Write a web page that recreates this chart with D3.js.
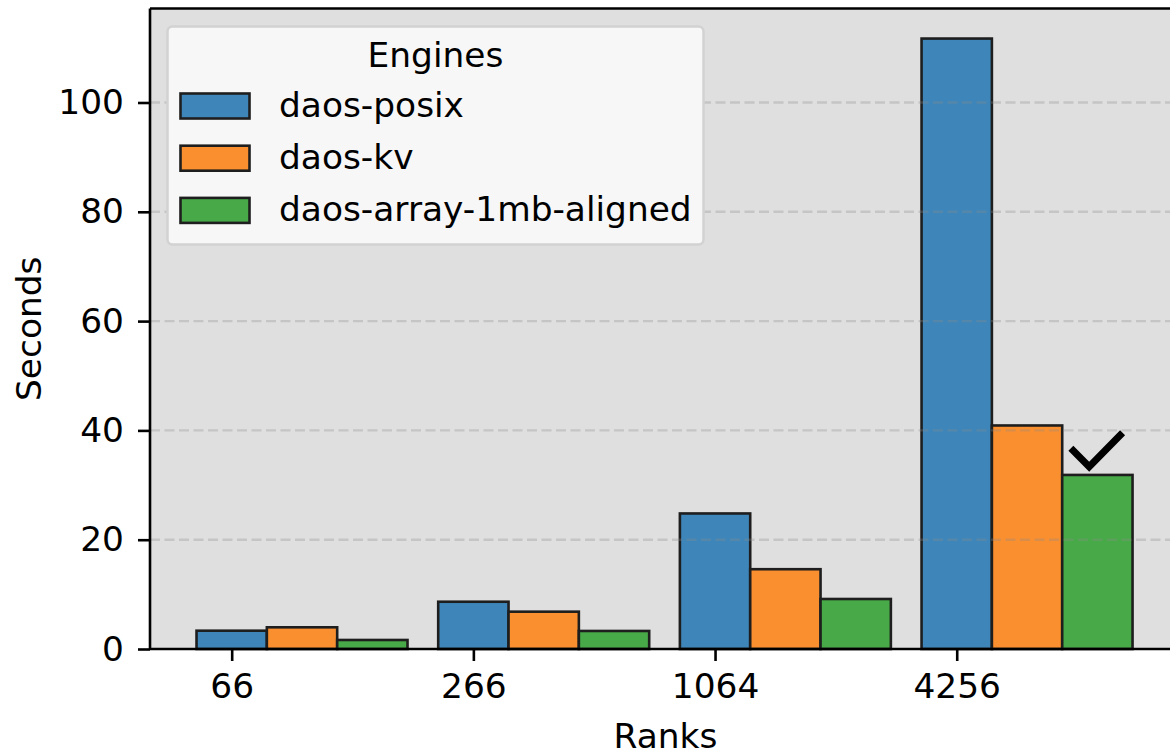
<!DOCTYPE html>
<html>
<head>
<meta charset="utf-8">
<script src="https://cdnjs.cloudflare.com/ajax/libs/d3/7.8.5/d3.min.js"></script>
<style>
	body{margin:0;background:#fff;}
	svg text{font-family:"DejaVu Sans",sans-serif;fill:#000;}
</style>
</head>
<body>
<svg id="canvas" width="1170" height="755"></svg>
<script>
// data
var ranks = ["66", "266", "1064", "4256"];
var engines = ["daos-posix", "daos-kv", "daos-array-1mb-aligned"];
var posixSec = [3.35, 8.65, 24.8, 111.7];
var kvSec = [3.97, 6.83, 14.6, 40.9];
var arraySec = [1.65, 3.3, 9.15, 31.85];
var yTicks = [0, 20, 40, 60, 80, 100];
var bestRank = "4256"; // checkmark goes on the array bar here

var ChartWidget={};
ChartWidget = {
	settings:{
		colors: ["#3e86b9", "#f98f2f", "#48a948"],
		bg: "#dfdfdf",
		edge: "#1e1e1e",
		barWidth: 0.291,
		fontSize: 34.4
	},
	init: function(s_canvas){
		var svg = d3.select(s_canvas);
		svg.selectAll("*").remove();

		this.x = d3.scaleLinear().domain([-0.338, 3.928]).range([150, 1181]);
		this.y = d3.scaleLinear().domain([0, 117.2]).range([649, 8.5]);

		this.generateFrame(svg);
		this.generateBars(svg);
		this.generateGrid(svg);
		this.generateCheck(svg);
		this.generateAxis(svg);
		this.generateLegend(svg);
	},
	generateFrame: function(svg){
		var x = this.x, y = this.y;
		svg.append("rect")
		.attr("x", x.range()[0])
		.attr("y", y.range()[1])
		.attr("width", x.range()[1]-x.range()[0])
		.attr("height", y.range()[0]-y.range()[1])
		.attr("fill", this.settings.bg);
	},
	generateBars: function(svg){
		var x = this.x, y = this.y, s = this.settings;
		var series = [posixSec, kvSec, arraySec];
		var unit = x(1)-x(0);

		var groups = svg.selectAll("g.series")
		.data(series)
		.enter()
		.append("g")
		.attr("class", "series")
		.attr("fill", function(d,i) { return s.colors[i]; });

		groups.each(function(vals, si){
			d3.select(this).selectAll("rect")
			.data(vals)
			.enter().append("rect")
			.attr("x", function(d,i) { return x(i + si*s.barWidth - s.barWidth/2); })
			.attr("y", function(d) { return y(d); })
			.attr("width", s.barWidth*unit)
			.attr("height", function(d) { return y(0)-y(d); })
			.attr("stroke", s.edge)
			.attr("stroke-width", 2.6);
		});
	},
	generateGrid: function(svg){
		var x = this.x, y = this.y;
		svg.selectAll(".grid").data(yTicks.slice(1))
		.enter()
		.append("line")
		.attr("class", "grid")
		.attr("x1", x.range()[0])
		.attr("x2", x.range()[1])
		.attr("y1", function(d) { return y(d); })
		.attr("y2", function(d) { return y(d); })
		.attr("stroke", "#8c8c8c")
		.attr("stroke-opacity", 0.3)
		.attr("stroke-width", 2.4)
		.attr("stroke-dasharray", "10,4.5");
	},
	generateCheck: function(svg){
		var s = this.settings;
		var i = ranks.indexOf(bestRank);
		var cx = this.x(i + 2*s.barWidth);
		var top = this.y(arraySec[i]);
		var pts = [[-26.5,-26.6],[-8.2,-8.2],[25.2,-42.2]];
		svg.append("path")
		.attr("d", d3.line()(pts.map(function(p){ return [cx+p[0], top+p[1]]; })))
		.attr("fill", "none")
		.attr("stroke", "#000")
		.attr("stroke-width", 7)
		.attr("stroke-linejoin", "miter");
	},
	generateAxis: function(svg){
		var x = this.x, y = this.y, s = this.settings;

		var yAxis = svg.append("g")
		.attr("transform", "translate(" + x.range()[0] + ",0)")
		.call(d3.axisLeft(y).tickValues(yTicks).tickSize(12).tickPadding(14));

		var xAxis = svg.append("g")
		.attr("transform", "translate(0," + y(0) + ")")
		.call(d3.axisBottom(x).tickValues(d3.range(ranks.length))
			.tickFormat(function(d) { return ranks[d]; })
			.tickSize(12).tickPadding(13));

		[xAxis, yAxis].forEach(function(ax){
			ax.select(".domain").remove();
			ax.selectAll(".tick line").attr("stroke", "#000").attr("stroke-width", 2.6);
			ax.selectAll(".tick text")
			.attr("font-size", s.fontSize)
			.attr("font-family", "DejaVu Sans");
		});

		// spines: left, top, bottom (right one falls outside the picture)
		var sp = svg.append("g").attr("stroke", "#000").attr("stroke-width", 2.6);
		sp.append("line").attr("x1", x.range()[0]).attr("x2", x.range()[0])
			.attr("y1", y.range()[0]).attr("y2", y.range()[1]);
		sp.append("line").attr("x1", x.range()[0]).attr("x2", x.range()[1])
			.attr("y1", y.range()[1]).attr("y2", y.range()[1]);
		sp.append("line").attr("x1", x.range()[0]).attr("x2", x.range()[1])
			.attr("y1", y.range()[0]).attr("y2", y.range()[0]);

		svg.append("text")
		.attr("x", (x.range()[0]+x.range()[1])/2)
		.attr("y", 748)
		.attr("text-anchor", "middle")
		.attr("font-size", s.fontSize)
		.text("Ranks");

		svg.append("text")
		.attr("transform", "translate(41," + (y.range()[0]+y.range()[1])/2 + ") rotate(-90)")
		.attr("text-anchor", "middle")
		.attr("font-size", s.fontSize)
		.text("Seconds");
	},
	generateLegend: function(svg){
		var s = this.settings;
		var lg = svg.append("g").attr("transform", "translate(167.5,26.5)");
		lg.append("rect")
		.attr("width", 536)
		.attr("height", 218)
		.attr("rx", 5)
		.attr("fill", "#f7f7f7")
		.attr("stroke", "#d2d2d2")
		.attr("stroke-width", 2.5);

		lg.append("text")
		.attr("x", 268)
		.attr("y", 40)
		.attr("text-anchor", "middle")
		.attr("font-size", s.fontSize)
		.text("Engines");

		var row = lg.selectAll("g.item")
		.data(engines)
		.enter()
		.append("g")
		.attr("class", "item")
		.attr("transform", function(d,i) { return "translate(0," + (i*52.2) + ")"; });

		row.append("rect")
		.attr("x", 13)
		.attr("y", 67)
		.attr("width", 69)
		.attr("height", 25)
		.attr("fill", function(d,i) { return s.colors[i]; })
		.attr("stroke", s.edge)
		.attr("stroke-width", 2.6);

		row.append("text")
		.attr("x", 111.5)
		.attr("y", 90)
		.attr("font-size", s.fontSize)
		.text(function(d) { return d; });
	}
};

ChartWidget.init("#canvas");
</script>
</body>
</html>
